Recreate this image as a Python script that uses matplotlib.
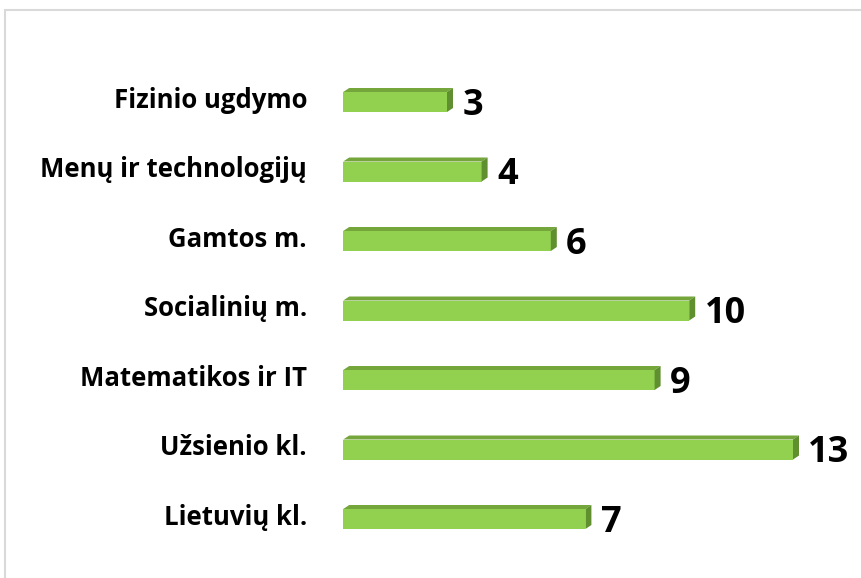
import matplotlib
matplotlib.use("Agg")
import matplotlib.pyplot as plt
from matplotlib.patches import Polygon, Rectangle

categories = ["Lietuvių kl.", "Užsienio kl.", "Matematikos ir IT", "Socialinių m.",
              "Gamtos m.", "Menų ir technologijų", "Fizinio ugdymo"]
values = [7, 13, 9, 10, 6, 4, 3]

W, H = 861, 578
fig = plt.figure(figsize=(W / 100, H / 100), dpi=100)
ax = fig.add_axes([0, 0, 1, 1])

px_per_unit = 34.6
zero_px = 343.2
x0 = -zero_px / px_per_unit
ax.set_xlim(x0, x0 + W / px_per_unit)
row_px = 69.5
base_px = 519
ax.set_ylim((base_px - H) / row_px, base_px / row_px)
ax.axis("off")

front = "#92D050"
top_c = "#74A63C"
side_c = "#5F8F2F"
bar_h = 20 / row_px
dx = 6 / px_per_unit
dy = 4 / row_px

fonts = ["Open Sans", "DejaVu Sans"]
for i, (cat, v) in enumerate(zip(categories, values)):
    ax.barh(i, v, height=bar_h, color=front, edgecolor="none", zorder=3)
    t = i + bar_h / 2
    b = i - bar_h / 2
    ax.add_patch(Polygon([(0, t), (v, t), (v + dx, t + dy), (dx, t + dy)],
                         closed=True, facecolor=top_c, edgecolor="none", zorder=3))
    ax.add_patch(Polygon([(v, b), (v, t), (v + dx, t + dy), (v + dx, b + dy)],
                         closed=True, facecolor=side_c, edgecolor="none", zorder=3))
    ax.annotate(cat, xy=(0, i), xytext=(-26, -4.3), textcoords="offset points",
                ha="right", va="baseline", fontsize=18.5, fontweight="bold",
                family=fonts, color="#000000")
    ax.annotate(str(v), xy=(v, i), xytext=(11, -9.2), textcoords="offset points",
                ha="left", va="baseline", fontsize=26, fontweight="bold",
                family=fonts, color="#000000")

fig.add_artist(Rectangle((5 / W, -0.1), 1.2, (H - 10) / H + 0.1,
                         transform=fig.transFigure, fill=False,
                         edgecolor="#D9D9D9", linewidth=1.5))

fig.savefig("out.png", dpi=100)
